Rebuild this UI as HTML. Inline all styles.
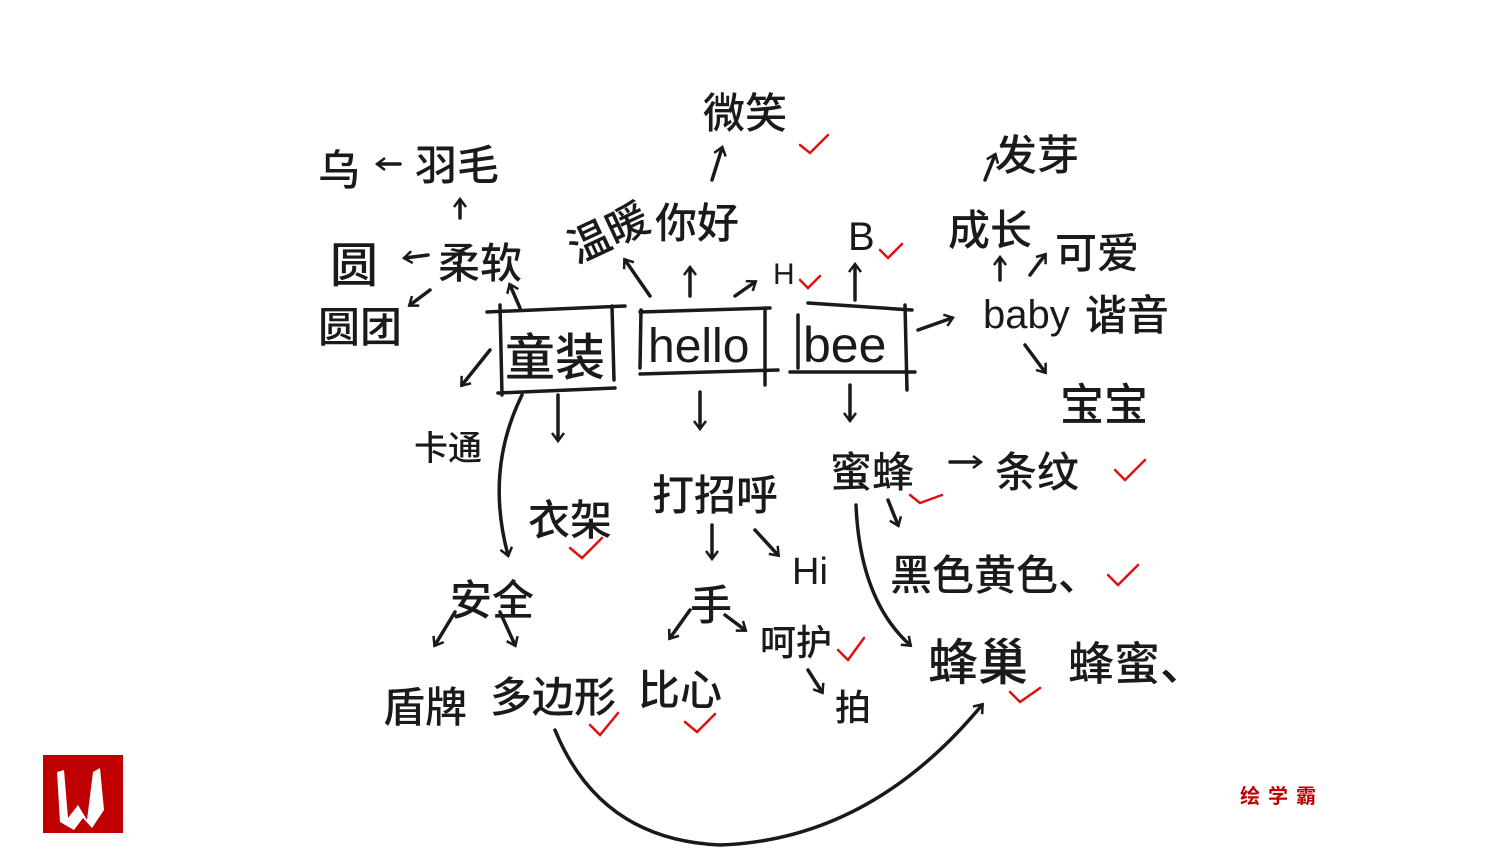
<!DOCTYPE html>
<html><head><meta charset="utf-8"><style>
html,body{margin:0;padding:0;background:#fff;width:1500px;height:864px;overflow:hidden}
svg{display:block}
text{font-family:"Liberation Sans","Noto Sans CJK SC",sans-serif;fill:#1a1a1a}
.h{font-family:"Noto Sans CJK SC","WenQuanYi Zen Hei",sans-serif;font-weight:500}
</style></head><body>
<svg width="1500" height="864" viewBox="0 0 1500 864" xmlns="http://www.w3.org/2000/svg">
<defs>
<marker id="a" markerWidth="14" markerHeight="14" refX="8" refY="7" orient="auto" markerUnits="userSpaceOnUse">
<path d="M1,1 L9,7 L1,13" fill="none" stroke="#1a1a1a" stroke-width="2.5"/></marker>
</defs>
<g stroke="#1a1a1a" stroke-width="3.5" fill="none" stroke-linecap="round">
<path d="M487,312 L625,306 M500,305 L502,395 M498,393 L615,388 M612,306 L614,380"/>
<path d="M640,312 L770,308 M641,310 L640,368 M640,374 L778,370 M765,308 L765,385"/>
<path d="M790,372 L915,372 M798,315 L798,368 M808,303 L912,310 M905,305 L907,390"/>
<path d="M400,164 L378,164" marker-end="url(#a)"/>
<path d="M460,218 L460,200" marker-end="url(#a)"/>
<path d="M428,255 L405,258" marker-end="url(#a)"/>
<path d="M430,290 L410,305" marker-end="url(#a)"/>
<path d="M520,308 L510,285" marker-end="url(#a)"/>
<path d="M490,350 L462,385" marker-end="url(#a)"/>
<path d="M650,296 L625,260" marker-end="url(#a)"/>
<path d="M690,296 L690,268" marker-end="url(#a)"/>
<path d="M735,296 L755,282" marker-end="url(#a)"/>
<path d="M712,180 L722,148" marker-end="url(#a)"/>
<path d="M855,300 L855,265" marker-end="url(#a)"/>
<path d="M918,330 L952,318" marker-end="url(#a)"/>
<path d="M1000,280 L1000,258" marker-end="url(#a)"/>
<path d="M1030,275 L1045,255" marker-end="url(#a)"/>
<path d="M985,180 L995,155" marker-end="url(#a)"/>
<path d="M1025,345 L1045,372" marker-end="url(#a)"/>
<path d="M558,395 L558,440" marker-end="url(#a)"/>
<path d="M700,392 L700,428" marker-end="url(#a)"/>
<path d="M850,385 L850,420" marker-end="url(#a)"/>
<path d="M950,462 L980,462" marker-end="url(#a)"/>
<path d="M888,500 L898,525" marker-end="url(#a)"/>
<path d="M712,525 L712,558" marker-end="url(#a)"/>
<path d="M755,530 L778,555" marker-end="url(#a)"/>
<path d="M455,612 L435,645" marker-end="url(#a)"/>
<path d="M500,612 L515,645" marker-end="url(#a)"/>
<path d="M690,610 L670,638" marker-end="url(#a)"/>
<path d="M725,615 L745,630" marker-end="url(#a)"/>
<path d="M808,670 L822,692" marker-end="url(#a)"/>
<path d="M522,395 Q485,470 508,555" marker-end="url(#a)"/>
<path d="M856,505 Q860,600 910,645" marker-end="url(#a)"/>
<path d="M555,730 Q600,840 720,845 Q870,840 982,705" marker-end="url(#a)"/>
</g>
<g class="h" font-size="42">
<text x="318" y="185" class="h">乌</text>
<text x="415" y="180" class="h">羽毛</text>
<text x="703" y="128" class="h">微笑</text>
<text x="995" y="170" class="h">发芽</text>
<text x="560" y="250" class="h" transform="rotate(-25 600 220)">温暖</text>
<text x="655" y="238" class="h">你好</text>
<text x="330" y="282" class="h" font-size="48">圆</text>
<text x="438" y="278" class="h">柔软</text>
<text x="318" y="342" class="h">圆团</text>
<text x="948" y="245" class="h">成长</text>
<text x="1055" y="268" class="h">可爱</text>
<text x="1085" y="330" class="h">谐音</text>
<text x="505" y="375" class="h" font-size="50">童装</text>
<text x="1060" y="420" class="h" font-size="44">宝宝</text>
<text x="414" y="460" class="h" font-size="34">卡通</text>
<text x="528" y="535" class="h">衣架</text>
<text x="652" y="510" class="h">打招呼</text>
<text x="830" y="487" class="h">蜜蜂</text>
<text x="995" y="487" class="h">条纹</text>
<text x="890" y="590" class="h">黑色黄色、</text>
<text x="450" y="615" class="h">安全</text>
<text x="690" y="620" class="h">手</text>
<text x="760" y="655" class="h" font-size="36">呵护</text>
<text x="383" y="722" class="h">盾牌</text>
<text x="490" y="712" class="h">多边形</text>
<text x="638" y="705" class="h">比心</text>
<text x="835" y="720" class="h" font-size="36">拍</text>
<text x="928" y="680" class="h" font-size="50">蜂巢</text>
<text x="1068" y="680" class="h" font-size="46">蜂蜜、</text>
</g>
<text x="648" y="362" font-size="48">hello</text>
<text x="803" y="362" font-size="50">bee</text>
<text x="983" y="328" font-size="40">baby</text>
<text x="848" y="250" font-size="40">B</text>
<text x="773" y="284" font-size="30">H</text>
<text x="792" y="584" font-size="38">Hi</text>
<g stroke="#e01010" stroke-width="2.5" fill="none" stroke-linecap="round">
<path d="M800,145 l10,8 l18,-18"/><path d="M880,250 l8,8 l14,-14"/><path d="M800,280 l8,8 l12,-12"/>
<path d="M1115,470 l10,10 l20,-20"/><path d="M910,495 l10,8 l22,-8"/><path d="M570,548 l12,10 l20,-20"/>
<path d="M1108,575 l10,10 l20,-20"/><path d="M838,650 l10,10 l16,-22"/><path d="M590,725 l10,10 l18,-22"/>
<path d="M685,722 l12,10 l18,-18"/><path d="M1010,692 l10,10 l20,-14"/>
</g>
<rect x="43" y="755" width="80" height="78" fill="#c00000"/>
<path d="M57,772 L64,770 L68,818 L78,805 L87,820 L93,772 L100,768 L104,810 L92,828 L83,818 L74,830 L60,822 Z" fill="#fff"/>
<text x="1240" y="803" font-size="20" style="fill:#c00000;font-weight:bold;letter-spacing:8px" class="h">绘学霸</text>
</svg>
</body></html>
